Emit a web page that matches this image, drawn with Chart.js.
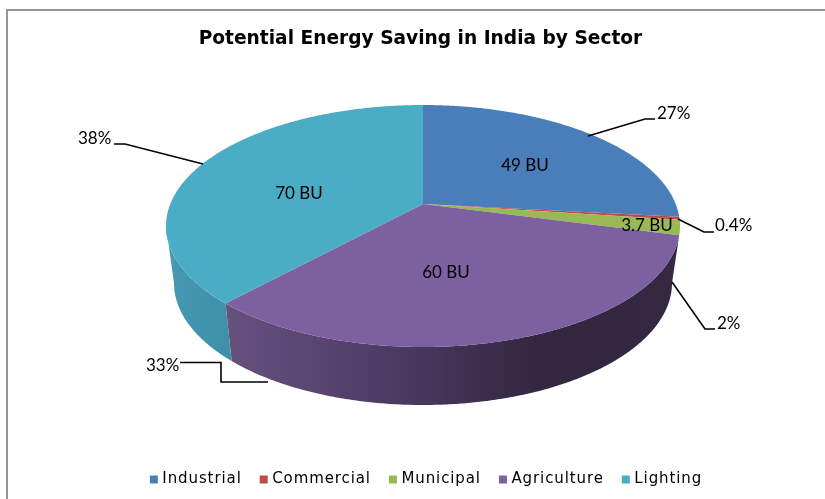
<!DOCTYPE html>
<html>
<head>
<meta charset="utf-8">
<style>html,body{margin:0;padding:0;background:#fff}canvas{display:block}</style>
<script src="https://cdn.jsdelivr.net/npm/chart.js@4/dist/chart.umd.min.js"></script>
</head>
<body>
<canvas id="c" width="825" height="499"></canvas>
<script>
const chartTitle = 'Potential Energy Saving in India by Sector';
const sectors = ['Industrial', 'Commercial', 'Municipal', 'Agriculture', 'Lighting'];
const savingsBU = [49, 0.7, 3.7, 60, 70];
const valueLabels = ['49 BU', '', '3.7 BU', '60 BU', '70 BU'];
const percentLabels = ['27%', '0.4%', '2%', '33%', '38%'];
const sectorColors = ['#4a7ebb', '#be4b48', '#98b954', '#7d60a0', '#4bacc6'];

// Perspective pie geometry
const TOP = {cx: 423, cy: 226, rx: 257, ry: 121};
const BASE = {cx: 423, cy: 283, rx: 249, ry: 122};
const TILT = 0.182;
const SIDE_ANGLE = Math.asin(TILT);
function project(angle, e) {
  const x = Math.cos(angle), y = Math.sin(angle), d = 1 - TILT * y;
  return [e.cx + e.rx * x * Math.sqrt(1 - TILT * TILT) / d, e.cy + e.ry * (y - TILT) / d];
}
function rim(ctx, a0, a1, e, first) {
  const n = Math.max(2, Math.ceil(Math.abs(a1 - a0) / 0.008));
  for (let i = 0; i <= n; i++) {
    const p = project(a0 + (a1 - a0) * i / n, e);
    if (i === 0 && first) ctx.moveTo(p[0], p[1]); else ctx.lineTo(p[0], p[1]);
  }
}
// Slices are drawn by the library's pipeline, projected on to the tilted disc
Chart.ArcElement.prototype.draw = function (ctx) {
  const hub = [TOP.cx, TOP.cy - TILT * TOP.ry];
  ctx.save();
  ctx.fillStyle = this.options.backgroundColor;
  ctx.beginPath();
  ctx.moveTo(hub[0], hub[1]);
  rim(ctx, this.startAngle, this.endAngle, TOP, false);
  ctx.closePath();
  ctx.fill();
  ctx.restore();
};
// Legend text in the reference is tracked out
const legendProto = Chart.Legend._element.prototype;
['fit', 'draw'].forEach(m => {
  const original = legendProto[m];
  legendProto[m] = function (...args) {
    this.ctx.letterSpacing = '0.9px';
    const r = original.apply(this, args);
    this.ctx.letterSpacing = '0px';
    return r;
  };
});

const wallShades = {
  3: [[226, '#67517f'], [400, '#4a3a62'], [540, '#322640'], [680, '#352841']],
  4: [[168, '#4599b3'], [228, '#3f90a8']]
};
const wallPlugin = {
  id: 'walls',
  afterLayout(chart) {
    chart.titleBlock.left -= 7;
    chart.titleBlock.right -= 7;
  },
  beforeDatasetsDraw(chart) {
    const ctx = chart.ctx, arcs = chart.getDatasetMeta(0).data;
    [3, 4].forEach(i => {
      const a = arcs[i], shades = wallShades[i];
      const x0 = shades[0][0], x1 = shades[shades.length - 1][0];
      const g = ctx.createLinearGradient(x0, 0, x1, 0);
      shades.forEach(s => g.addColorStop((s[0] - x0) / (x1 - x0), s[1]));
      const from = a.startAngle;
      const to = i === 3 ? a.endAngle : Math.PI - SIDE_ANGLE;
      const tail = i === 3 ? SIDE_ANGLE : a.startAngle;
      ctx.save();
      ctx.fillStyle = g;
      ctx.beginPath();
      rim(ctx, from, to, TOP, true);
      rim(ctx, to, tail, BASE, false);
      ctx.closePath();
      ctx.fill();
      ctx.restore();
    });
  }
};

const valueSpots = [[525, 166], null, [647, 226], [446, 273], [299, 194]];
const callouts = [
  {text: [657, 114], line: [[588, 136], [645, 119], [655, 119]]},
  {text: [715, 226], line: [[678, 219], [704, 232], [714, 232]]},
  {text: [717, 324], line: [[672, 282], [705, 329], [715, 329]]},
  {text: [146, 366], line: [[268, 382], [221, 382], [221, 362.5], [180, 362.5]]},
  {text: [78, 139], line: [[114, 144], [125, 144], [203, 164]]}
];
const labelPlugin = {
  id: 'labels',
  beforeDraw(chart) {
    const ctx = chart.ctx;
    ctx.save();
    ctx.strokeStyle = '#969696';
    ctx.lineWidth = 2;
    ctx.beginPath();
    ctx.moveTo(825, 10); ctx.lineTo(7, 10); ctx.lineTo(7, 499);
    ctx.stroke();
    ctx.restore();
  },
  afterDatasetsDraw(chart) {
    const ctx = chart.ctx;
    ctx.save();
    ctx.font = '17px Lato';
    ctx.fillStyle = '#000';
    ctx.textBaseline = 'middle';
    ctx.textAlign = 'center';
    valueLabels.forEach((t, i) => { if (t) ctx.fillText(t, valueSpots[i][0], valueSpots[i][1]); });
    ctx.textAlign = 'left';
    ctx.strokeStyle = '#000';
    ctx.lineWidth = 1.6;
    callouts.forEach((c, i) => {
      ctx.beginPath();
      c.line.forEach((p, j) => j ? ctx.lineTo(p[0], p[1]) : ctx.moveTo(p[0], p[1]));
      ctx.stroke();
      ctx.fillText(percentLabels[i], c.text[0], c.text[1]);
    });
    ctx.restore();
  }
};

new Chart(document.getElementById('c'), {
  type: 'pie',
  data: {
    labels: sectors,
    datasets: [{data: savingsBU, backgroundColor: sectorColors, borderWidth: 0}]
  },
  plugins: [wallPlugin, labelPlugin],
  options: {
    responsive: false,
    animation: false,
    layout: {padding: {left: 30, bottom: 2}},
    plugins: {
      tooltip: {enabled: false},
      title: {
        display: true,
        text: chartTitle,
        color: '#000',
        font: {family: 'DejaVu Sans', size: 18.6, weight: 'bold'},
        padding: {top: 28, bottom: 10}
      },
      legend: {
        position: 'bottom',
        labels: {
          color: '#000',
          font: {family: 'DejaVu Sans', size: 15},
          boxWidth: 2,
          boxHeight: 2,
          padding: 21,
          generateLabels(chart) {
            return Chart.overrides.pie.plugins.legend.labels.generateLabels(chart).map(item => {
              item.strokeStyle = item.fillStyle;
              item.lineWidth = 6;
              return item;
            });
          }
        }
      }
    }
  }
});
</script>
</body>
</html>
